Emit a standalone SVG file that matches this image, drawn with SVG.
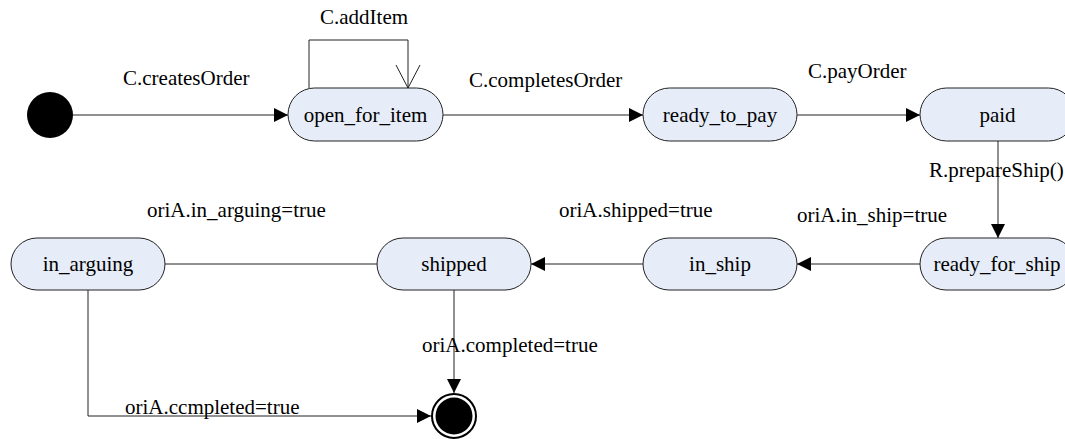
<svg xmlns="http://www.w3.org/2000/svg" width="1065" height="439" viewBox="0 0 1065 439">
<style>
  .node rect { fill: #E6EDF8; stroke: #222; stroke-width: 1; }
  .node text, .lbl { font-family: "Liberation Serif", "Times New Roman", serif; font-size: 21px; fill: #000; }
  .node text { text-anchor: middle; }
  .edge { fill: none; stroke: #222; stroke-width: 1; }
</style>
<defs>
  <marker id="arr" viewBox="0 0 14 14" refX="14" refY="7" markerWidth="14" markerHeight="14" markerUnits="userSpaceOnUse" orient="auto">
    <path d="M0,0 L14,7 L0,14 Z" fill="#000"/>
  </marker>
  <marker id="open" viewBox="0 0 24 26" refX="23" refY="13" markerWidth="24" markerHeight="26" markerUnits="userSpaceOnUse" orient="auto">
    <path d="M0,1 L23,13 L0,25" fill="none" stroke="#222" stroke-width="1"/>
  </marker>
</defs>
<rect width="1065" height="439" fill="#fff"/>

<g id="connectors">
  <path class="edge" d="M73,115 H288" marker-end="url(#arr)"/>
  <path class="edge" d="M309,88 V40 H408 V88" marker-end="url(#open)"/>
  <path class="edge" d="M443,115 H643" marker-end="url(#arr)"/>
  <path class="edge" d="M797,115 H920" marker-end="url(#arr)"/>
  <path class="edge" d="M998,141 V238" marker-end="url(#arr)"/>
  <path class="edge" d="M920,264 H797" marker-end="url(#arr)"/>
  <path class="edge" d="M643,264 H531" marker-end="url(#arr)"/>
  <path class="edge" d="M377,264 H165"/>
  <path class="edge" d="M454,290 V393" marker-end="url(#arr)"/>
  <path class="edge" d="M88,290 V416 H431" marker-end="url(#arr)"/>
  <text class="lbl" x="123" y="85">C.createsOrder</text>
  <text class="lbl" x="320" y="24">C.addItem</text>
  <text class="lbl" x="469" y="87">C.completesOrder</text>
  <text class="lbl" x="808" y="78">C.payOrder</text>
  <text class="lbl" x="929" y="177">R.prepareShip()</text>
  <text class="lbl" x="797" y="222">oriA.in_ship=true</text>
  <text class="lbl" x="559" y="217">oriA.shipped=true</text>
  <text class="lbl" x="147" y="217">oriA.in_arguing=true</text>
  <text class="lbl" x="422" y="352">oriA.completed=true</text>
  <text class="lbl" x="125" y="414">oriA.ccmpleted=true</text>
</g>

<g id="initial">
  <circle cx="50" cy="115" r="23" fill="#000"/>
</g>
<g id="final">
  <circle cx="454" cy="416" r="22" fill="#fff" stroke="#000" stroke-width="2"/>
  <circle cx="454" cy="416" r="18.5" fill="#000"/>
</g>

<g id="open_for_item" class="node">
  <rect x="288" y="88" width="155" height="53" rx="26.5" ry="26.5"/>
  <text x="365.5" y="122">open_for_item</text>
</g>
<g id="ready_to_pay" class="node">
  <rect x="643" y="88" width="154" height="53" rx="26.5" ry="26.5"/>
  <text x="720" y="122">ready_to_pay</text>
</g>
<g id="paid" class="node">
  <rect x="920" y="88" width="155" height="53" rx="26.5" ry="26.5"/>
  <text x="997.5" y="122">paid</text>
</g>
<g id="ready_for_ship" class="node">
  <rect x="920" y="238" width="155" height="52" rx="26" ry="26"/>
  <text x="997" y="271">ready_for_ship</text>
</g>
<g id="in_ship" class="node">
  <rect x="643" y="238" width="154" height="52" rx="26" ry="26"/>
  <text x="720" y="271">in_ship</text>
</g>
<g id="shipped" class="node">
  <rect x="377" y="238" width="154" height="52" rx="26" ry="26"/>
  <text x="454" y="271">shipped</text>
</g>
<g id="in_arguing" class="node">
  <rect x="11" y="238" width="154" height="52" rx="26" ry="26"/>
  <text x="88" y="271">in_arguing</text>
</g>
</svg>
